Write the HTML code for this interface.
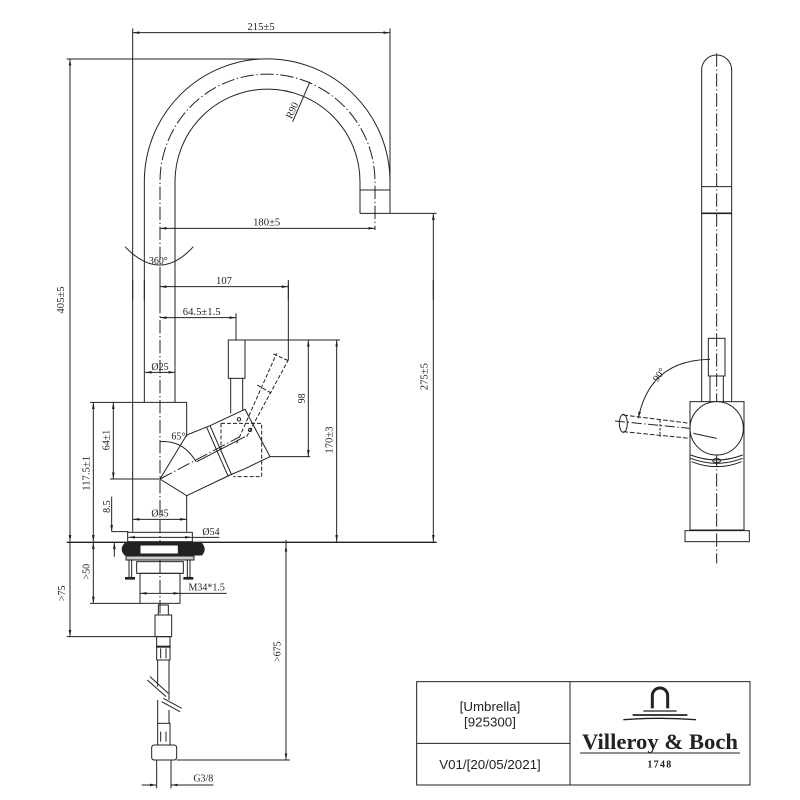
<!DOCTYPE html>
<html><head><meta charset="utf-8"><style>
html,body{margin:0;padding:0;background:#fff}
svg{display:block}
.d{font-family:"Liberation Serif",serif;fill:#222}
.s{font-family:"Liberation Sans",sans-serif;fill:#222}
</style></head><body>
<svg width="800" height="800" viewBox="0 0 800 800" xmlns="http://www.w3.org/2000/svg">
<defs>
<marker id="a" markerUnits="userSpaceOnUse" markerWidth="20" markerHeight="10" refX="20" refY="5" orient="auto-start-reverse"><path d="M0,1 L20,5 L0,9 z" fill="#222"/></marker>
</defs>
<rect width="800" height="800" fill="#fff"/>

<!-- Zoom1 region -->
<g transform="translate(60,0) scale(0.33333)" fill="none" stroke="#222" stroke-width="3">
<line x1="218" y1="98" x2="990" y2="98" marker-start="url(#a)" marker-end="url(#a)"/>
<text class="d" x="603" y="90" font-size="32" text-anchor="middle" stroke="none">215±5</text>
<line x1="218" y1="85" x2="218" y2="900"/>
<line x1="990" y1="85" x2="990" y2="640"/>
<line x1="20" y1="177" x2="610" y2="177"/>
<line x1="30" y1="177" x2="30" y2="900" marker-start="url(#a)"/>
<path d="M253,900 L253,545 A368,368 0 0 1 990,545 L990,640"/>
<path d="M345,900 L345,545 A277,277 0 0 1 900,545 L900,640"/>
<path d="M300,900 L300,545 A322,322 0 0 1 945,545 L945,690" stroke-dasharray="40,8,4,8"/>
<line x1="900" y1="570" x2="990" y2="570"/>
<line x1="900" y1="640" x2="990" y2="640"/>
<line x1="990" y1="640" x2="1130" y2="640"/>
<line x1="1120" y1="640" x2="1120" y2="900" marker-start="url(#a)"/>
<line x1="300" y1="685" x2="945" y2="685" marker-start="url(#a)" marker-end="url(#a)"/>
<text class="d" x="620" y="677" font-size="32" text-anchor="middle" stroke="none">180±5</text>
<line x1="750" y1="245" x2="698" y2="365"/>
<text class="d" x="705" y="335" font-size="30" text-anchor="middle" stroke="none" transform="rotate(-65 705 335)">R90</text>
<path d="M195,740 Q300,850 400,740"/>
<text class="d" x="295" y="792" font-size="30" text-anchor="middle" stroke="none">360°</text>
<line x1="300" y1="860" x2="685" y2="860" marker-start="url(#a)" marker-end="url(#a)"/>
<text class="d" x="492" y="852" font-size="32" text-anchor="middle" stroke="none">107</text>
<line x1="685" y1="850" x2="685" y2="900"/>
</g>

<!-- Zoom2 region -->
<g transform="translate(60,280) scale(0.33333)" fill="none" stroke="#222" stroke-width="3">
<line x1="30" y1="0" x2="30" y2="785" marker-end="url(#a)"/>
<text class="d" x="12" y="60" font-size="32" text-anchor="middle" stroke="none" transform="rotate(-90 12 60)">405±5</text>
<line x1="1120" y1="0" x2="1120" y2="785" marker-end="url(#a)"/>
<text class="d" x="1102" y="290" font-size="32" text-anchor="middle" stroke="none" transform="rotate(-90 1102 290)">275±5</text>
<line x1="685" y1="0" x2="685" y2="240"/>
<line x1="218" y1="0" x2="218" y2="755"/>
<line x1="253" y1="0" x2="253" y2="367"/>
<line x1="345" y1="0" x2="345" y2="367"/>
<line x1="300" y1="0" x2="300" y2="1000" stroke-dasharray="40,8,4,8"/>
<line x1="300" y1="113" x2="528" y2="113" marker-start="url(#a)" marker-end="url(#a)"/>
<text class="d" x="425" y="105" font-size="32" text-anchor="middle" stroke="none">64.5±1.5</text>
<line x1="528" y1="100" x2="528" y2="180"/>
<rect x="505" y="180" width="50" height="115"/>
<line x1="512" y1="295" x2="512" y2="400"/>
<line x1="548" y1="295" x2="548" y2="390"/>
<line x1="555" y1="180" x2="840" y2="180"/>
<line x1="745" y1="180" x2="745" y2="530" marker-start="url(#a)" marker-end="url(#a)"/>
<text class="d" x="735" y="355" font-size="30" text-anchor="middle" stroke="none" transform="rotate(-90 735 355)">98</text>
<line x1="830" y1="180" x2="830" y2="785" marker-start="url(#a)" marker-end="url(#a)"/>
<text class="d" x="818" y="480" font-size="32" text-anchor="middle" stroke="none" transform="rotate(-90 818 480)">170±3</text>
<line x1="630" y1="530" x2="750" y2="530"/>
<line x1="255" y1="277" x2="345" y2="277" marker-start="url(#a)" marker-end="url(#a)"/>
<text class="d" x="300" y="270" font-size="30" text-anchor="middle" stroke="none">Ø25</text>
<line x1="90" y1="367" x2="380" y2="367"/>
<line x1="380" y1="367" x2="380" y2="470"/>
<line x1="380" y1="645" x2="380" y2="755"/>
<line x1="150" y1="597" x2="300" y2="597"/>
<line x1="160" y1="367" x2="160" y2="597" marker-start="url(#a)" marker-end="url(#a)"/>
<text class="d" x="148" y="480" font-size="30" text-anchor="middle" stroke="none" transform="rotate(-90 148 480)">64±1</text>
<line x1="100" y1="367" x2="100" y2="785" marker-start="url(#a)" marker-end="url(#a)"/>
<text class="d" x="88" y="580" font-size="32" text-anchor="middle" stroke="none" transform="rotate(-90 88 580)">117.5±1</text>
<path d="M300,597 L380,465 L450,437 L555,388 L630,530 L555,566 L510,585 L380,647 Z"/>
<line x1="450" y1="437" x2="515" y2="585"/>
<line x1="440" y1="442" x2="505" y2="590"/>
<line x1="410" y1="545" x2="555" y2="470"/>
<path d="M300,485 Q370,480 408,545"/>
<text class="d" x="355" y="478" font-size="30" text-anchor="middle" stroke="none">65°</text>
<line x1="300" y1="597" x2="540" y2="470" stroke-dasharray="40,8,4,8"/>
<path d="M483,430 L605,430 L605,590 L520,590" stroke-dasharray="12,6"/>
<path d="M483,430 L483,510" stroke-dasharray="12,6"/>
<path d="M530,490 L650,220 M560,470 L685,240 M592,315 L635,340 M640,222 L685,242" stroke-dasharray="12,6"/>
<circle cx="537" cy="418" r="5"/><circle cx="570" cy="450" r="5"/>
<line x1="155" y1="650" x2="155" y2="755" marker-end="url(#a)"/>
<line x1="163" y1="787" x2="163" y2="830" marker-start="url(#a)"/>
<text class="d" x="150" y="680" font-size="30" text-anchor="middle" stroke="none" transform="rotate(-90 150 680)">8.5</text>
<line x1="155" y1="755" x2="205" y2="755"/>
<line x1="218" y1="718" x2="380" y2="718" marker-start="url(#a)" marker-end="url(#a)"/>
<text class="d" x="300" y="710" font-size="30" text-anchor="middle" stroke="none">Ø45</text>
<rect x="203" y="757" width="194" height="28"/>
<line x1="205" y1="772" x2="395" y2="772" marker-start="url(#a)" marker-end="url(#a)"/>
<text class="d" x="453" y="765" font-size="30" text-anchor="middle" stroke="none">Ø54</text>
<line x1="397" y1="772" x2="478" y2="772"/>
<line x1="20" y1="787" x2="1130" y2="787" stroke-width="4"/>
<path d="M195,790 L425,790 Q440,808 425,825 L195,825 Q178,808 195,790 Z" fill="#222"/>
<rect x="240" y="795" width="115" height="27" fill="#fff"/>
<rect x="198" y="828" width="204" height="12" fill="#ccc"/>
<rect x="207" y="840" width="8" height="52"/>
<rect x="382" y="840" width="8" height="52"/>
<path d="M195,895 L225,895 M370,895 L400,895" stroke-width="8"/>
<rect x="230" y="845" width="140" height="35"/>
<rect x="240" y="880" width="120" height="90"/>
<line x1="240" y1="940" x2="360" y2="940" marker-start="url(#a)" marker-end="url(#a)"/>
<text class="d" x="440" y="932" font-size="30" text-anchor="middle" stroke="none">M34*1.5</text>
<line x1="360" y1="940" x2="500" y2="940"/>
<line x1="100" y1="787" x2="100" y2="970" marker-start="url(#a)" marker-end="url(#a)"/>
<line x1="90" y1="970" x2="240" y2="970"/>
<line x1="678" y1="795" x2="678" y2="1000" marker-start="url(#a)"/>
</g>

<!-- Zoom3 region -->
<g transform="translate(60,540) scale(0.33333)" fill="none" stroke="#222" stroke-width="3">
<line x1="30" y1="7" x2="30" y2="290" marker-end="url(#a)"/>
<text class="d" x="15" y="160" font-size="30" text-anchor="middle" stroke="none" transform="rotate(-90 15 160)">&gt;75</text>
<line x1="20" y1="290" x2="285" y2="290"/>
<text class="d" x="88" y="95" font-size="30" text-anchor="middle" stroke="none" transform="rotate(-90 88 95)">&gt;50</text>
<rect x="295" y="195" width="30" height="30"/>
<rect x="285" y="225" width="50" height="65"/>
<rect x="290" y="290" width="40" height="70"/>
<line x1="288" y1="320" x2="332" y2="320" stroke-width="6"/>
<line x1="302" y1="325" x2="302" y2="355"/><line x1="318" y1="325" x2="318" y2="355"/>
<line x1="293" y1="360" x2="293" y2="440"/><line x1="327" y1="360" x2="327" y2="480"/>
<line x1="293" y1="480" x2="293" y2="550"/><line x1="327" y1="510" x2="327" y2="550"/>
<path d="M262,420 L318,470 M270,410 L325,460 M310,475 L365,505 M305,485 L360,515"/>
<rect x="293" y="550" width="37" height="65"/>
<line x1="302" y1="575" x2="302" y2="605"/><line x1="318" y1="575" x2="318" y2="605"/>
<rect x="275" y="615" width="75" height="45" rx="8"/>
<line x1="290" y1="660" x2="290" y2="745"/><line x1="333" y1="660" x2="333" y2="745"/>
<line x1="245" y1="735" x2="290" y2="735" marker-end="url(#a)"/>
<line x1="333" y1="735" x2="460" y2="735" marker-start="url(#a)"/>
<text class="d" x="430" y="725" font-size="30" text-anchor="middle" stroke="none">G3/8</text>
<line x1="678" y1="0" x2="678" y2="660" marker-end="url(#a)"/>
<line x1="350" y1="660" x2="690" y2="660"/>
<text class="d" x="662" y="335" font-size="30" text-anchor="middle" stroke="none" transform="rotate(-90 662 335)">&gt;675</text>
</g>

<!-- Zoom4 region: side view -->
<g transform="translate(590,40) scale(0.33333)" fill="none" stroke="#222" stroke-width="3">
<line x1="380" y1="40" x2="380" y2="1570" stroke-dasharray="40,8,4,8"/>
<path d="M335,1085 L335,90 A45,45 0 0 1 425,90 L425,1085"/>
<line x1="335" y1="440" x2="425" y2="440"/>
<line x1="335" y1="520" x2="425" y2="520" stroke-width="5"/>
<rect x="355" y="895" width="50" height="113"/>
<line x1="360" y1="1008" x2="360" y2="1100"/><line x1="400" y1="1008" x2="400" y2="1100"/>
<rect x="300" y="1085" width="162" height="385"/>
<rect x="285" y="1472" width="193" height="33"/>
<circle cx="380" cy="1165" r="80" fill="#fff"/>
<path d="M302,1245 Q380,1275 458,1245 M302,1255 Q380,1285 458,1255 M305,1265 Q380,1295 455,1265"/>
<ellipse cx="380" cy="1262" rx="12" ry="6"/>
<line x1="310" y1="1180" x2="380" y2="1195"/>
<path d="M100,1125 L300,1150 M100,1175 L300,1195" stroke-dasharray="14,6"/>
<path d="M210,1140 L210,1190" stroke-dasharray="8,4"/>
<ellipse cx="100" cy="1150" rx="12" ry="27"/>
<line x1="75" y1="1143" x2="300" y2="1165" stroke-dasharray="30,8,4,8"/>
<path d="M360,958 Q180,960 145,1135" marker-end="url(#a)"/>
<text class="d" x="215" y="1010" font-size="30" text-anchor="middle" stroke="none" transform="rotate(-55 215 1010)">90°</text>
</g>

<!-- Title block -->
<g transform="translate(410,675) scale(0.33333)" fill="none" stroke="#222" stroke-width="3">
<rect x="20" y="20" width="1000" height="310"/>
<line x1="480" y1="20" x2="480" y2="330"/>
<line x1="20" y1="205" x2="480" y2="205"/>
<text class="s" x="240" y="108" font-size="40" text-anchor="middle" stroke="none">[Umbrella]</text>
<text class="s" x="240" y="155" font-size="40" text-anchor="middle" stroke="none">[925300]</text>
<text class="s" x="240" y="282" font-size="40" text-anchor="middle" stroke="none">V01/[20/05/2021]</text>
<text class="d" x="750" y="222" font-size="68" font-weight="bold" text-anchor="middle" stroke="none">Villeroy &amp; Boch</text>
<line x1="510" y1="234" x2="990" y2="234"/>
<text class="d" x="750" y="278" font-size="30" font-weight="bold" text-anchor="middle" stroke="none" letter-spacing="4">1748</text>
<path d="M727,100 L727,62 A23,23 0 0 1 773,62 L773,100" stroke-width="9"/>
<path d="M700,108 L800,108" stroke-width="4"/>
<path d="M668,120 L832,120" stroke-width="5"/>
<path d="M640,134 Q750,126 858,134" stroke-width="4"/>
</g>
</svg>
</body></html>
